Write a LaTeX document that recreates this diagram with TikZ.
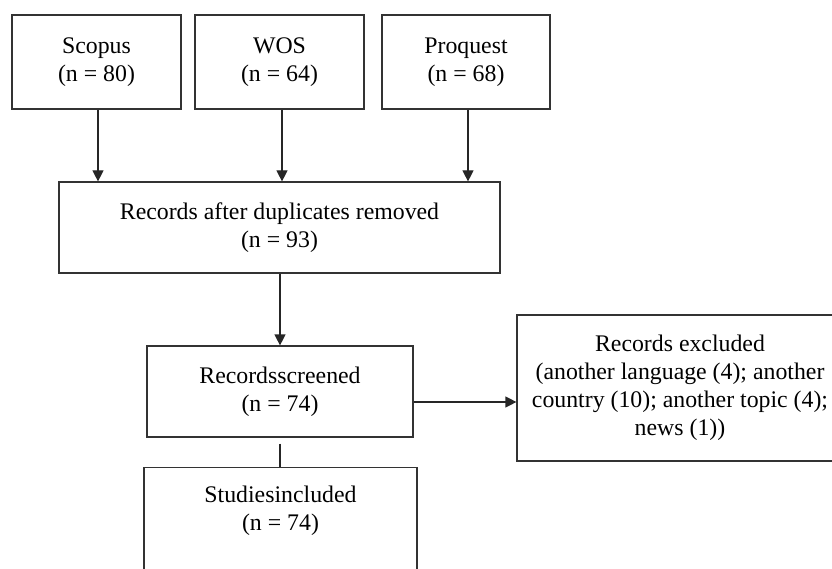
\documentclass[tikz,border=0pt]{standalone}
\usepackage{fontspec}
\setmainfont{Liberation Serif}
\usetikzlibrary{arrows.meta}
\begin{document}
\begin{tikzpicture}[
  box/.style={draw=black!80, line width=1.2pt, rectangle, inner sep=0pt, align=center,
    font=\fontsize{23.8}{28}\selectfont},
  txt/.style={inner sep=0pt, align=center, font=\fontsize{23.8}{28}\selectfont},
  arr/.style={draw=black!85, line width=1.2pt, -{Triangle[length=11pt,width=11pt]}},
  ln/.style={draw=black!85, line width=1.2pt}
]
\useasboundingbox (0pt,0pt) rectangle (832pt,-569pt);
\begin{scope}
\clip (0pt,0pt) rectangle (832pt,-569pt);
\node[box, minimum width=169pt, minimum height=94pt] (scopus) at (96.5pt,-62pt) {Scopus\\(n = 80)};
\node[box, minimum width=169pt, minimum height=94pt] (wos) at (279.5pt,-62pt) {WOS\\(n = 64)};
\node[box, minimum width=168pt, minimum height=94pt] (proq) at (466pt,-62pt) {Proquest\\(n = 68)};
\node[box, minimum width=441pt, minimum height=91pt] (dup) at (279.5pt,-227.5pt) {Records after duplicates removed\\(n = 93)};
\node[box, minimum width=266pt, minimum height=91pt] (scr) at (280pt,-391.5pt) {Recordsscreened\\(n = 74)};
\node[box, minimum width=326pt, minimum height=146pt] (excl) at (680pt,-388pt) {Records excluded\\(another language (4); another\\country (10); another topic (4);\\news (1))};
\node[box, minimum width=273pt, minimum height=140pt, anchor=north] (stud) at (280.5pt,-467pt) {};
\node[txt] (studt) at ([yshift=-44pt]stud.north) {Studiesincluded\\(n = 74)};

\draw[arr] ([xshift=1.5pt]scopus.south) -- ([xshift=1.5pt]scopus.south |- dup.north);
\draw[arr] ([xshift=2.5pt]wos.south) -- ([xshift=2.5pt]wos.south |- dup.north);
\draw[arr] ([xshift=2pt]proq.south) -- ([xshift=2pt]proq.south |- dup.north);
\draw[arr] (dup.south -| scr.north) -- (scr.north);
\draw[ln] ([yshift=-6pt]scr.south) -- (scr.south |- stud.north);
\coordinate (sr) at ([yshift=-10.5pt]scr.east);
\draw[arr] (sr) -- (sr -| excl.west);
\end{scope}
\end{tikzpicture}
\end{document}
